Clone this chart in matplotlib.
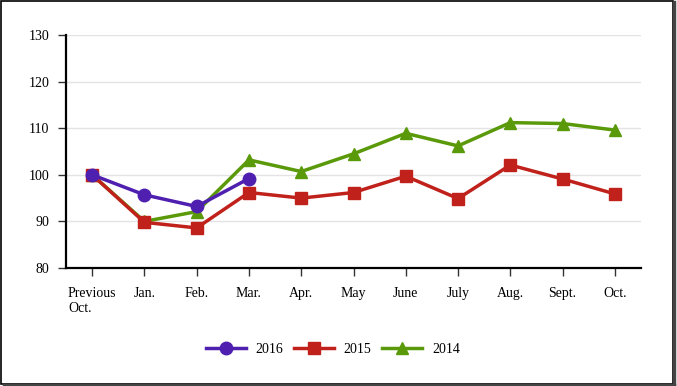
import matplotlib
matplotlib.use("Agg")
import matplotlib.pyplot as plt
from matplotlib.patches import Rectangle
from matplotlib.lines import Line2D

plt.rcParams['font.family'] = ['Liberation Serif', 'DejaVu Serif']

months = ["Previous\nOct.", "Jan.", "Feb.", "Mar.", "Apr.", "May", "June",
          "July", "Aug.", "Sept.", "Oct."]
s2016 = [100, 95.7, 93.2, 99.2]
s2015 = [100, 89.8, 88.6, 96.2, 95.0, 96.2, 99.7, 94.9, 102.1, 99.1, 95.9]
s2014 = [100, 90.0, 92.1, 103.2, 100.7, 104.5, 108.9, 106.2, 111.2, 111.0, 109.6]
yticks = [80, 90, 100, 110, 120, 130]

C16 = '#4f1fb0'
C15 = '#c0221b'
C14 = '#5a9a0a'

fig = plt.figure(figsize=(6.77, 3.86), dpi=100)
ax = fig.add_axes([66/677, 1 - 268/386, 575/677, 233/386])

x = list(range(len(months)))
ax.plot(x, s2014, color=C14, lw=2.5, marker='^', ms=9, label='2014', zorder=3)
ax.plot(x, s2015, color=C15, lw=2.5, marker='s', ms=9, label='2015', zorder=4)
ax.plot(x[:len(s2016)], s2016, color=C16, lw=2.5, marker='o', ms=9, label='2016', zorder=5)

ax.set_xlim(-0.5, len(months) - 0.5)
ax.set_ylim(80, 130)
ax.set_yticks(yticks)
ax.set_xticks(x)
ax.set_xticklabels(months, multialignment='left')
ax.grid(axis='y', color='#e3e3e3', lw=1)
ax.set_axisbelow(True)
for s in ['top', 'right']:
    ax.spines[s].set_visible(False)
for s in ['left', 'bottom']:
    ax.spines[s].set_linewidth(1.6)
ax.tick_params(axis='both', labelsize=10, length=6, width=1, color='#333333', pad=8)
ax.tick_params(axis='y', pad=6)

h, l = ax.get_legend_handles_labels()
order = [2, 1, 0]
ax.legend([h[i] for i in order], [l[i] for i in order], loc='center',
          bbox_to_anchor=(0.464, -0.35), ncol=3, frameon=False,
          fontsize=10, handlelength=2.9, columnspacing=0.75, handletextpad=0.7)

# outer frame with a small shadow
fig.patches.append(Rectangle((0.002, 0.006), 0.992, 0.991, transform=fig.transFigure,
                             fill=False, edgecolor='black', lw=1.2))
fig.lines.append(Line2D([0.996, 0.996], [0.003, 0.994], transform=fig.transFigure,
                        color='#444444', lw=2.5))
fig.lines.append(Line2D([0.006, 0.996], [0.003, 0.003], transform=fig.transFigure,
                        color='#444444', lw=2.5))

fig.savefig('out.png', dpi=100)
